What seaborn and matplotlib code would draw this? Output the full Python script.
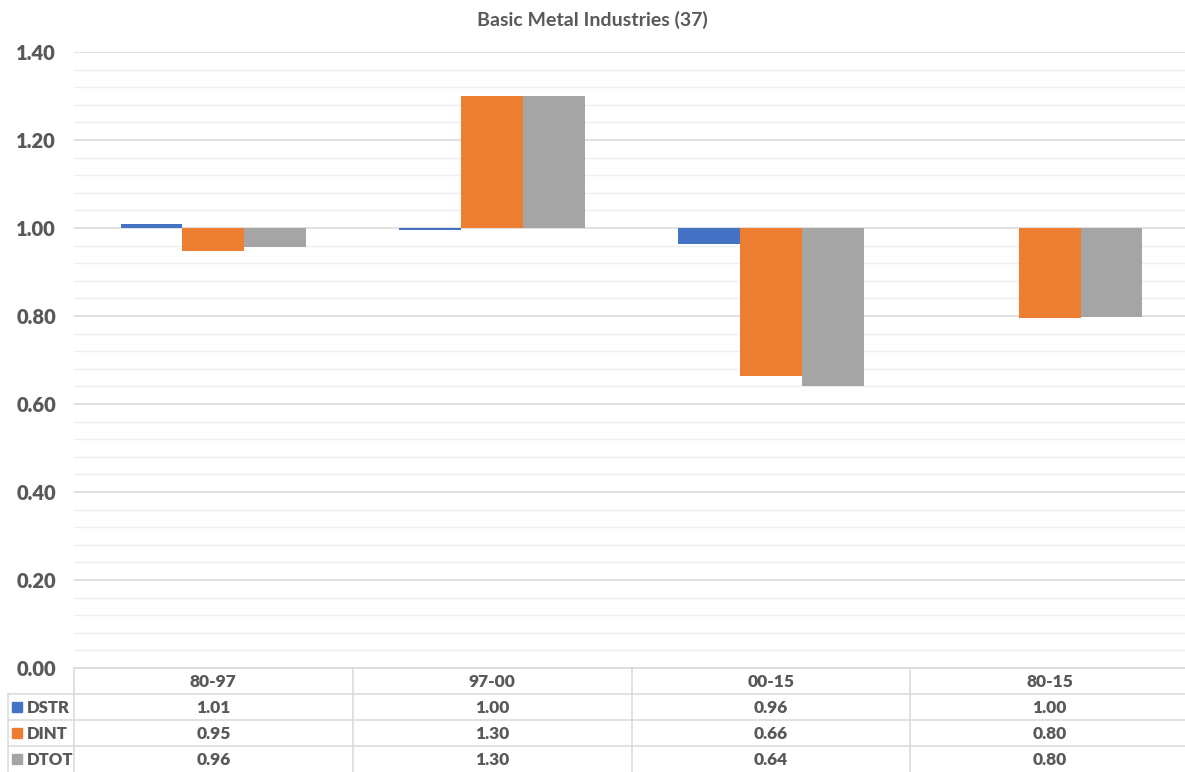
import numpy as np
import pandas as pd
import matplotlib
matplotlib.use("Agg")
import matplotlib.pyplot as plt
import seaborn as sns

# Index values per period (1.00 = no change)
periods = ["80-97", "97-00", "00-15", "80-15"]
dstr = [1.009, 0.996, 0.963, 1.000]
dint = [0.948, 1.299, 0.664, 0.796]
dtot = [0.957, 1.299, 0.640, 0.798]
series_names = ["DSTR", "DINT", "DTOT"]
colors = ["#4472C4", "#ED7D31", "#A5A5A5"]
title = "Basic Metal Industries (37)"
yticks = [0.0, 0.2, 0.4, 0.6, 0.8, 1.0, 1.2, 1.4]

baseline = 1.0
text_color = "#595959"

sns.set_theme(style="white")
plt.rcParams["font.family"] = ["Lato", "DejaVu Sans"]

rows = []
for name, vals in zip(series_names, [dstr, dint, dtot]):
    for p, v in zip(periods, vals):
        rows.append({"period": p, "series": name, "value": v, "delta": v - baseline})
df = pd.DataFrame(rows)

W, H = 1185, 772
fig = plt.figure(figsize=(W / 100, H / 100), dpi=100)
fig.patch.set_facecolor("white")

left, top_px, bot_px = 74 / W, 52 / H, 668 / H
width = (1189 - 74) / W
ax = fig.add_axes([left, 1 - bot_px, width, bot_px - top_px])

# Bars grow up or down from the 1.00 baseline
sns.barplot(data=df, x="period", y="delta", hue="series", order=periods,
            hue_order=series_names, palette=colors, width=0.665, bottom=baseline,
            saturation=1, linewidth=0, legend=False, ax=ax, zorder=3)

ax.set_xlim(-0.5, len(periods) - 0.5)
ax.set_ylim(0, 1.4)
ax.set_yticks(yticks)
ax.set_yticklabels([f"{t:.2f}" for t in yticks], fontsize=14.5,
                   fontweight="heavy", color=text_color)
ax.set_yticks(np.arange(0, 1.41, 0.04), minor=True)
ax.grid(axis="y", which="major", color="#d9d9d9", linewidth=1.1, zorder=0)
ax.grid(axis="y", which="minor", color="#efefef", linewidth=1.0, zorder=0)
ax.grid(axis="x", visible=False)
ax.tick_params(axis="y", which="both", length=0, pad=13)
ax.tick_params(axis="x", length=0, labelbottom=False)
ax.set_xlabel("")
ax.set_ylabel("")
for s in ax.spines.values():
    s.set_visible(False)

fig.text(0.5, 1 - 20 / H, title, ha="center", va="center", fontsize=14,
         fontweight="bold", color=text_color)

# Data table under the plot
tab = fig.add_axes([left, 0, width, 1 - bot_px])
tab.set_xlim(-0.5, len(periods) - 0.5)
tab.set_ylim(4, 0)
tab.axis("off")
line_kw = dict(color="#d9d9d9", linewidth=1.1, clip_on=False)
x_first = -0.5 - (74 - 8) / (1189 - 74) * len(periods)
tab.plot([-0.5, len(periods) - 0.5], [0, 0], **line_kw)
for r in (1, 2, 3):
    tab.plot([x_first, len(periods) - 0.5], [r, r], **line_kw)
tab.plot([x_first, x_first], [1, 4], **line_kw)
for c in range(len(periods)):
    tab.plot([c - 0.5, c - 0.5], [0, 4], **line_kw)

cell_kw = dict(fontsize=12.5, fontweight="heavy", color=text_color)
for c, p in enumerate(periods):
    tab.text(c, 0.52, p, ha="center", va="center", **cell_kw)
for r, (name, vals, col) in enumerate(zip(series_names, [dstr, dint, dtot], colors), start=1):
    tab.plot([x_first + 0.033], [r + 0.5], marker="s", markersize=6.5, color=col,
             linestyle="none", clip_on=False)
    tab.text(x_first + 0.068, r + 0.52, name, ha="left", va="center",
             fontsize=12, fontweight="heavy", color=text_color)
    for c, v in enumerate(vals):
        tab.text(c, r + 0.52, f"{v:.2f}", ha="center", va="center", **cell_kw)

fig.savefig("out.png", dpi=100, facecolor="white")
